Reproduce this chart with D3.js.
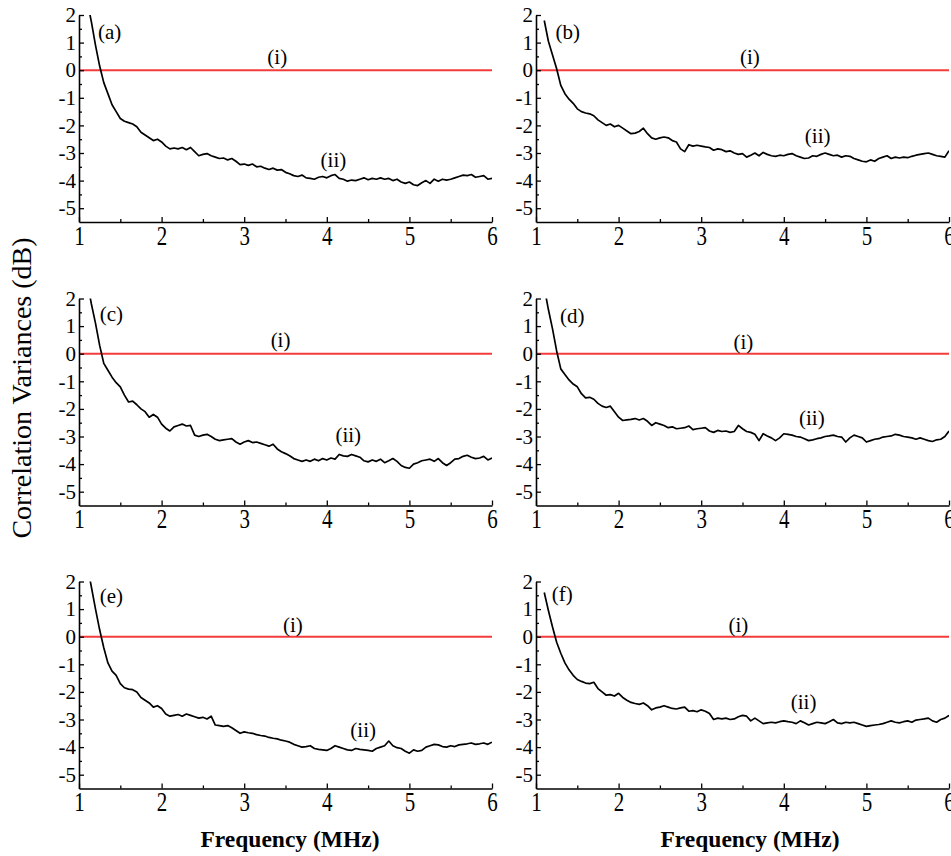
<!DOCTYPE html>
<html lang="en">
    <head>
        <meta charset="utf-8">
        <title>Correlation Variances</title>
        <script type="text/javascript" src="https://cdn.jsdelivr.net/npm/d3@7/dist/d3.min.js"></script>
        <style>
            body { margin: 0; background: #fff; }
            svg text { font-family: "Liberation Serif", "Times New Roman", Times, "DejaVu Serif", serif; fill: #000; }
        </style>
    </head>
    <body>
        <script type="text/javascript">

        //Frequency samples (MHz), shared by every panel
        var freq = [1.10,1.15,1.20,1.25,1.30,1.35,1.40,1.45,1.50,1.55,1.60,1.65,1.70,1.75,1.80,1.85,1.90,1.95,
                    2.00,2.05,2.10,2.15,2.20,2.25,2.30,2.35,2.40,2.45,2.50,2.55,2.60,2.65,2.70,2.75,2.80,2.85,2.90,2.95,
                    3.00,3.05,3.10,3.15,3.20,3.25,3.30,3.35,3.40,3.45,3.50,3.55,3.60,3.65,3.70,3.75,3.80,3.85,3.90,3.95,
                    4.00,4.05,4.10,4.15,4.20,4.25,4.30,4.35,4.40,4.45,4.50,4.55,4.60,4.65,4.70,4.75,4.80,4.85,4.90,4.95,
                    5.00,5.05,5.10,5.15,5.20,5.25,5.30,5.35,5.40,5.45,5.50,5.55,5.60,5.65,5.70,5.75,5.80,5.85,5.90,5.95,
                    6.00];

        //Curve (ii) for each panel, dB
        var seriesA = [2.5,1.75,0.9,0.15,-0.45,-0.85,-1.25,-1.5,-1.75,-1.85,-1.9,-1.95,-2.05,-2.25,-2.35,-2.45,-2.55,-2.5,
                       -2.6,-2.75,-2.85,-2.82,-2.85,-2.8,-2.88,-2.8,-2.95,-3.1,-3.05,-3.02,-3.1,-3.15,-3.2,-3.18,-3.25,-3.2,-3.3,-3.42,
                       -3.4,-3.45,-3.4,-3.5,-3.48,-3.55,-3.6,-3.55,-3.62,-3.6,-3.7,-3.75,-3.82,-3.85,-3.8,-3.9,-3.92,-3.95,-3.88,-3.85,
                       -3.9,-3.82,-3.78,-3.92,-3.95,-4.02,-3.98,-4.0,-3.95,-3.9,-3.97,-3.92,-3.95,-3.9,-3.95,-3.92,-4.0,-3.95,-4.05,-4.1,
                       -4.05,-4.15,-4.18,-4.08,-4.0,-4.1,-3.95,-4.02,-3.95,-3.98,-3.95,-3.9,-3.85,-3.8,-3.82,-3.78,-3.88,-3.85,-3.82,-3.95,
                       -3.92];
        var seriesB = [1.8,1.05,0.55,0.05,-0.55,-0.85,-1.05,-1.2,-1.4,-1.5,-1.55,-1.58,-1.65,-1.8,-1.9,-2.0,-1.95,-2.05,
                       -2.0,-2.1,-2.2,-2.3,-2.28,-2.22,-2.1,-2.3,-2.45,-2.5,-2.45,-2.42,-2.45,-2.55,-2.6,-2.85,-2.95,-2.7,-2.75,-2.72,
                       -2.75,-2.78,-2.8,-2.9,-2.85,-2.88,-2.95,-2.92,-3.0,-3.05,-3.02,-3.15,-3.08,-3.0,-3.1,-2.98,-3.05,-3.1,-3.12,-3.08,
                       -3.1,-3.05,-3.02,-3.1,-3.15,-3.2,-3.18,-3.1,-3.12,-3.05,-3.0,-3.05,-3.1,-3.08,-3.15,-3.1,-3.12,-3.2,-3.25,-3.3,
                       -3.32,-3.25,-3.3,-3.2,-3.15,-3.1,-3.2,-3.15,-3.18,-3.15,-3.17,-3.12,-3.08,-3.05,-3.02,-3.0,-3.05,-3.1,-3.12,-3.15,
                       -2.92];
        var seriesC = [2.6,1.8,1.1,0.3,-0.35,-0.6,-0.85,-1.05,-1.2,-1.5,-1.75,-1.72,-1.85,-2.0,-2.1,-2.3,-2.2,-2.3,
                       -2.55,-2.7,-2.8,-2.65,-2.6,-2.55,-2.62,-2.6,-2.95,-3.0,-2.95,-2.92,-3.0,-3.1,-3.15,-3.12,-3.1,-3.08,-3.2,-3.28,
                       -3.2,-3.15,-3.22,-3.2,-3.25,-3.3,-3.35,-3.28,-3.45,-3.55,-3.62,-3.7,-3.8,-3.85,-3.9,-3.85,-3.9,-3.82,-3.88,-3.8,
                       -3.85,-3.78,-3.82,-3.65,-3.7,-3.72,-3.65,-3.7,-3.75,-3.88,-3.92,-3.85,-3.9,-3.82,-3.95,-3.88,-3.8,-3.9,-4.05,-4.12,
                       -4.15,-4.0,-3.95,-3.88,-3.85,-3.82,-3.9,-3.8,-3.95,-4.05,-3.95,-3.82,-3.8,-3.72,-3.68,-3.75,-3.8,-3.78,-3.72,-3.85,
                       -3.78];
        var seriesD = [2.4,1.6,0.9,0.1,-0.55,-0.75,-0.95,-1.1,-1.2,-1.45,-1.6,-1.58,-1.65,-1.8,-1.9,-1.95,-1.9,-2.1,
                       -2.3,-2.42,-2.4,-2.38,-2.35,-2.4,-2.35,-2.45,-2.6,-2.5,-2.55,-2.6,-2.68,-2.65,-2.72,-2.7,-2.68,-2.62,-2.75,-2.72,
                       -2.7,-2.68,-2.8,-2.85,-2.78,-2.82,-2.8,-2.85,-2.82,-2.6,-2.72,-2.82,-2.85,-2.92,-3.15,-2.9,-2.98,-3.05,-3.15,-3.05,
                       -2.9,-2.92,-2.95,-3.0,-3.02,-3.08,-3.15,-3.12,-3.08,-3.05,-3.0,-2.98,-2.95,-3.0,-3.02,-3.2,-3.05,-2.95,-3.0,-3.05,
                       -3.2,-3.15,-3.1,-3.08,-3.02,-3.0,-2.98,-2.92,-2.95,-3.0,-3.02,-3.05,-3.1,-3.05,-3.1,-3.15,-3.18,-3.12,-3.1,-3.0,
                       -2.8];
        var seriesE = [2.6,1.8,1.0,0.25,-0.4,-0.95,-1.25,-1.4,-1.7,-1.85,-1.9,-1.92,-2.0,-2.2,-2.3,-2.4,-2.55,-2.5,
                       -2.6,-2.8,-2.88,-2.85,-2.82,-2.88,-2.8,-2.85,-2.9,-2.95,-2.92,-2.98,-2.88,-3.2,-3.22,-3.25,-3.22,-3.3,-3.4,-3.5,
                       -3.45,-3.48,-3.5,-3.55,-3.58,-3.6,-3.65,-3.68,-3.7,-3.75,-3.78,-3.82,-3.9,-3.95,-4.0,-3.98,-3.95,-4.05,-4.08,-4.1,
                       -4.12,-4.05,-3.95,-4.0,-4.05,-4.1,-4.12,-4.05,-4.08,-4.1,-4.12,-4.15,-4.05,-4.0,-3.95,-3.78,-3.95,-4.02,-4.05,-4.15,
                       -4.22,-4.1,-4.15,-4.12,-4.0,-3.95,-3.9,-3.92,-3.98,-4.0,-3.95,-3.98,-3.92,-3.9,-3.88,-3.85,-3.9,-3.88,-3.85,-3.9,
                       -3.82];
        var seriesF = [1.6,0.95,0.35,-0.2,-0.6,-0.95,-1.2,-1.4,-1.55,-1.62,-1.68,-1.7,-1.65,-1.88,-2.0,-2.12,-2.1,-2.15,
                       -2.05,-2.2,-2.3,-2.38,-2.42,-2.45,-2.4,-2.5,-2.65,-2.58,-2.55,-2.5,-2.55,-2.6,-2.62,-2.58,-2.55,-2.7,-2.68,-2.72,
                       -2.65,-2.7,-2.78,-3.0,-2.95,-2.98,-2.95,-3.0,-2.98,-2.9,-2.85,-2.88,-3.05,-2.95,-3.05,-3.15,-3.12,-3.1,-3.12,-3.08,
                       -3.05,-3.08,-3.1,-3.15,-3.05,-3.12,-3.2,-3.15,-3.1,-3.12,-3.15,-3.08,-3.0,-3.12,-3.15,-3.1,-3.12,-3.1,-3.15,-3.2,
                       -3.25,-3.22,-3.2,-3.18,-3.15,-3.1,-3.05,-3.1,-3.12,-3.08,-3.05,-3.1,-3.02,-3.0,-2.98,-2.95,-3.05,-3.1,-3.0,-2.95,
                       -2.85];

        //Curve (i): the 0 dB reference level
        var refFreq = [1, 6];
        var refValue = [0, 0];

        //Axis ticks
        var xTicks = [1, 2, 3, 4, 5, 6];
        var xMinorTicks = [1.5, 2.5, 3.5, 4.5, 5.5];
        var yTicks = [2, 1, 0, -1, -2, -3, -4, -5];
        var yMinorTicks = [1.5, 0.5, -0.5, -1.5, -2.5, -3.5, -4.5];

        var panelNames = ["(a)", "(b)", "(c)", "(d)", "(e)", "(f)"];
        var panelSeries = [seriesA, seriesB, seriesC, seriesD, seriesE, seriesF];

        //Layout: where each panel sits and where its labels go (in data units)
        var w = 951;
        var h = 856;
        var colX = [79, 536];
        var rowY = [15, 298.5, 581.5];
        var plotW = 413;
        var plotH = 207;
        var layout = [
            { col: 0, row: 0, tag: [1.23, 1.38], i: [3.40, 0.49], ii: [4.08, -3.27] },
            { col: 1, row: 0, tag: [1.235, 1.38], i: [3.59, 0.49], ii: [4.41, -2.40] },
            { col: 0, row: 1, tag: [1.25, 1.45], i: [3.44, 0.51], ii: [4.26, -2.95] },
            { col: 1, row: 1, tag: [1.29, 1.38], i: [3.51, 0.44], ii: [4.34, -2.33] },
            { col: 0, row: 2, tag: [1.25, 1.46], i: [3.59, 0.44], ii: [4.44, -3.39] },
            { col: 1, row: 2, tag: [1.19, 1.56], i: [3.45, 0.44], ii: [4.24, -2.36] }
        ];

        var serif = "'Liberation Serif', 'Times New Roman', Times, 'DejaVu Serif', serif";
        var fmt = function(d) { return String(d); };

        //Create SVG element
        var svg = d3.select("body")
              .append("svg")
              .attr("width", w)
              .attr("height", h)
              .attr("font-family", serif);

        panelNames.forEach(function(name, k) {
            var L = layout[k];
            var x0 = colX[L.col];
            var y0 = rowY[L.row];

            var xScale = d3.scaleLinear().domain([1, 6]).range([x0, x0 + plotW]);
            var yScale = d3.scaleLinear().domain([-5.5, 2]).range([y0 + plotH, y0]);

            var g = svg.append("g");

            //clip so the steep start of the curve stops at the top
            g.append("clipPath")
                .attr("id", "clip" + k)
              .append("rect")
                .attr("x", x0)
                .attr("y", y0)
                .attr("width", plotW)
                .attr("height", plotH);

            var line = d3.line()
                .x(function(d) { return xScale(d[0]); })
                .y(function(d) { return yScale(d[1]); });

            //(i) reference line
            g.append("path")
                .datum(d3.zip(refFreq, refValue))
                .attr("d", line)
                .attr("fill", "none")
                .attr("stroke", "#f43b3b")
                .attr("stroke-width", 2);

            //(ii) measured curve
            var series = panelSeries[k];
            g.append("path")
                .datum(d3.zip(freq, series))
                .attr("clip-path", "url(#clip" + k + ")")
                .attr("d", line)
                .attr("fill", "none")
                .attr("stroke", "#000")
                .attr("stroke-width", 1.7)
                .attr("stroke-linejoin", "round");

            //Y axis, minor then major
            g.append("g")
                .attr("transform", "translate(" + x0 + ",0)")
                .call(d3.axisLeft(yScale).tickValues(yMinorTicks).tickSizeInner(-3).tickSizeOuter(0).tickFormat(""))
                .call(function(a) { a.select(".domain").remove(); });
            var yAxisG = g.append("g")
                .attr("transform", "translate(" + x0 + ",0)")
                .call(d3.axisLeft(yScale).tickValues(yTicks).tickSizeInner(-5).tickSizeOuter(0).tickPadding(3).tickFormat(fmt));
            yAxisG.attr("font-family", serif).attr("font-size", 21);

            //X axis, minor then major
            g.append("g")
                .attr("transform", "translate(0," + (y0 + plotH) + ")")
                .call(d3.axisBottom(xScale).tickValues(xMinorTicks).tickSizeInner(-3).tickSizeOuter(0).tickFormat(""))
                .call(function(a) { a.select(".domain").remove(); });
            var xAxisG = g.append("g")
                .attr("transform", "translate(0," + (y0 + plotH) + ")")
                .call(d3.axisBottom(xScale).tickValues(xTicks).tickSizeInner(-5).tickSizeOuter(0).tickFormat(fmt));
            xAxisG.attr("font-family", serif).attr("font-size", 21);
            xAxisG.selectAll("text")
                .attr("y", 17.6)
                .attr("dy", 0)
                .attr("transform", "scale(1,1.3)");

            g.selectAll(".domain").attr("stroke-width", 1.6);
            g.selectAll(".tick line").attr("stroke-width", 1.3);

            //Labels
            g.append("text")
                .attr("x", xScale(L.tag[0]))
                .attr("y", yScale(L.tag[1]))
                .attr("dominant-baseline", "central")
                .attr("font-size", "21px")
                .text(name);
            g.append("text")
                .attr("x", xScale(L.i[0]))
                .attr("y", yScale(L.i[1]))
                .attr("text-anchor", "middle")
                .attr("dominant-baseline", "central")
                .attr("font-size", "21px")
                .text("(i)");
            g.append("text")
                .attr("x", xScale(L.ii[0]))
                .attr("y", yScale(L.ii[1]))
                .attr("text-anchor", "middle")
                .attr("dominant-baseline", "central")
                .attr("font-size", "21px")
                .text("(ii)");
        });

        //Axis titles
        [290, 750].forEach(function(cx) {
            svg.append("text")
                .attr("x", cx)
                .attr("y", 847)
                .attr("text-anchor", "middle")
                .attr("font-size", "23.5px")
                .attr("font-weight", "bold")
                .text("Frequency (MHz)");
        });

        svg.append("text")
            .attr("transform", "translate(31,388) rotate(-90)")
            .attr("text-anchor", "middle")
            .attr("font-size", "28px")
            .text("Correlation Variances (dB)");

        </script>
    </body>
</html>
